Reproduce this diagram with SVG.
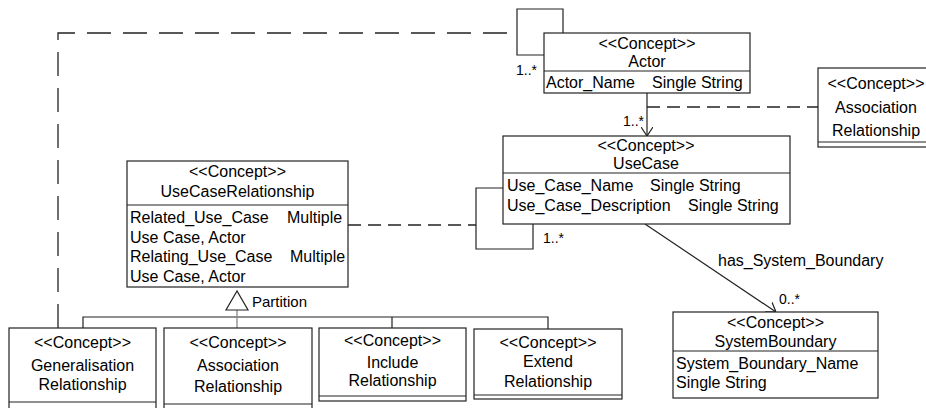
<svg xmlns="http://www.w3.org/2000/svg" width="926" height="408" viewBox="0 0 926 408">
<style>
text{font-family:"Liberation Sans",Arial,sans-serif;font-size:16px;fill:#000}
.c{text-anchor:middle}
.m{font-size:14px}
.p{font-size:15px}
.box{fill:#fff;stroke:#222;stroke-width:1.2}
.ln{fill:none;stroke:#222;stroke-width:1.2}
.d1{fill:none;stroke:#222;stroke-width:1.3;stroke-dasharray:24 12}
.d2{fill:none;stroke:#222;stroke-width:1.3;stroke-dasharray:13 7}
.g{fill:none;stroke:#888;stroke-width:1.3}
</style>
<defs>
<marker id="open" viewBox="0 0 9 12" refX="9" refY="6" markerWidth="9" markerHeight="12" orient="auto" markerUnits="userSpaceOnUse">
<path d="M0,0 L9,6 L0,12" fill="none" stroke="#222" stroke-width="1.2"/>
</marker>
</defs>

<g id="connectors">
<path class="d1" d="M58,328 V33 H517"/>
<path class="ln" d="M563,33 V9 H517 V55 H544"/>
<line class="ln" x1="647" y1="93" x2="647" y2="136" marker-end="url(#open)"/>
<path class="d2" d="M647,107 H818"/>
<path class="ln" d="M503,188 H476 V249 H533 V224"/>
<path class="d2" d="M348,225 H476"/>
<line class="ln" x1="645" y1="224" x2="776" y2="312" marker-end="url(#open)"/>
<path class="ln" d="M83,328 V317 H548 V329 M392,317 V328"/>
<path class="g" d="M237,310 V328"/>
<polygon points="237,291 226,310 248,310" fill="#fff" stroke="#222" stroke-width="1.2"/>
<text class="m" x="516" y="75">1..*</text>
<text class="m" x="623" y="126">1..*</text>
<text class="m" x="543" y="243">1..*</text>
<text class="m" x="779" y="304">0..*</text>
<text x="718" y="266">has_System_Boundary</text>
<text class="p" x="252" y="307">Partition</text>
</g>

<g id="actor">
<rect class="box" x="544" y="33" width="206" height="60"/>
<line class="ln" x1="544" y1="71" x2="750" y2="71"/>
<text class="c" x="647" y="49">&lt;&lt;Concept&gt;&gt;</text>
<text class="c" x="647" y="67">Actor</text>
<text x="546" y="88">Actor_Name<tspan x="652">Single String</tspan></text>
</g>

<g id="assoc-top">
<rect class="box" x="818" y="68" width="120" height="79"/>
<line class="ln" x1="818" y1="142" x2="938" y2="142"/>
<text class="c" x="876" y="89">&lt;&lt;Concept&gt;&gt;</text>
<text class="c" x="876" y="113">Association</text>
<text class="c" x="876" y="136">Relationship</text>
</g>

<g id="usecase">
<rect class="box" x="503" y="136" width="287" height="88"/>
<line class="ln" x1="503" y1="173" x2="790" y2="173"/>
<text class="c" x="646" y="151">&lt;&lt;Concept&gt;&gt;</text>
<text class="c" x="646" y="169">UseCase</text>
<text x="507" y="191">Use_Case_Name<tspan x="650">Single String</tspan></text>
<text x="507" y="211">Use_Case_Description<tspan x="688">Single String</tspan></text>
</g>

<g id="usecaserelationship">
<rect class="box" x="127" y="161" width="221" height="126"/>
<line class="ln" x1="127" y1="205" x2="348" y2="205"/>
<text class="c" x="237.5" y="177">&lt;&lt;Concept&gt;&gt;</text>
<text class="c" x="237.5" y="197">UseCaseRelationship</text>
<text x="130" y="223">Related_Use_Case<tspan x="287">Multiple</tspan></text>
<text x="130" y="243">Use Case, Actor</text>
<text x="130" y="262">Relating_Use_Case<tspan x="290">Multiple</tspan></text>
<text x="130" y="282">Use Case, Actor</text>
</g>

<g id="systemboundary">
<rect class="box" x="673" y="312" width="205" height="86"/>
<line class="ln" x1="673" y1="351" x2="878" y2="351"/>
<text class="c" x="775.5" y="328">&lt;&lt;Concept&gt;&gt;</text>
<text class="c" x="775.5" y="347">SystemBoundary</text>
<text x="676" y="369">System_Boundary_Name</text>
<text x="676" y="388">Single String</text>
</g>

<g id="generalisation">
<rect class="box" x="9" y="328" width="147" height="90"/>
<line class="ln" x1="9" y1="402" x2="156" y2="402"/>
<text class="c" x="82.5" y="348">&lt;&lt;Concept&gt;&gt;</text>
<text class="c" x="82.5" y="371">Generalisation</text>
<text class="c" x="82.5" y="390">Relationship</text>
</g>

<g id="association">
<rect class="box" x="164" y="328" width="148" height="90"/>
<line class="ln" x1="164" y1="404" x2="312" y2="404"/>
<text class="c" x="238" y="348">&lt;&lt;Concept&gt;&gt;</text>
<text class="c" x="238" y="371">Association</text>
<text class="c" x="238" y="392">Relationship</text>
</g>

<g id="include">
<rect class="box" x="319" y="328" width="147" height="73"/>
<line class="ln" x1="319" y1="396" x2="466" y2="396"/>
<text class="c" x="392.5" y="346">&lt;&lt;Concept&gt;&gt;</text>
<text class="c" x="392.5" y="368">Include</text>
<text class="c" x="392.5" y="386">Relationship</text>
</g>

<g id="extend">
<rect class="box" x="474" y="329" width="148" height="70"/>
<line class="ln" x1="474" y1="395" x2="622" y2="395"/>
<text class="c" x="548" y="348">&lt;&lt;Concept&gt;&gt;</text>
<text class="c" x="548" y="367">Extend</text>
<text class="c" x="548" y="387">Relationship</text>
</g>
</svg>
